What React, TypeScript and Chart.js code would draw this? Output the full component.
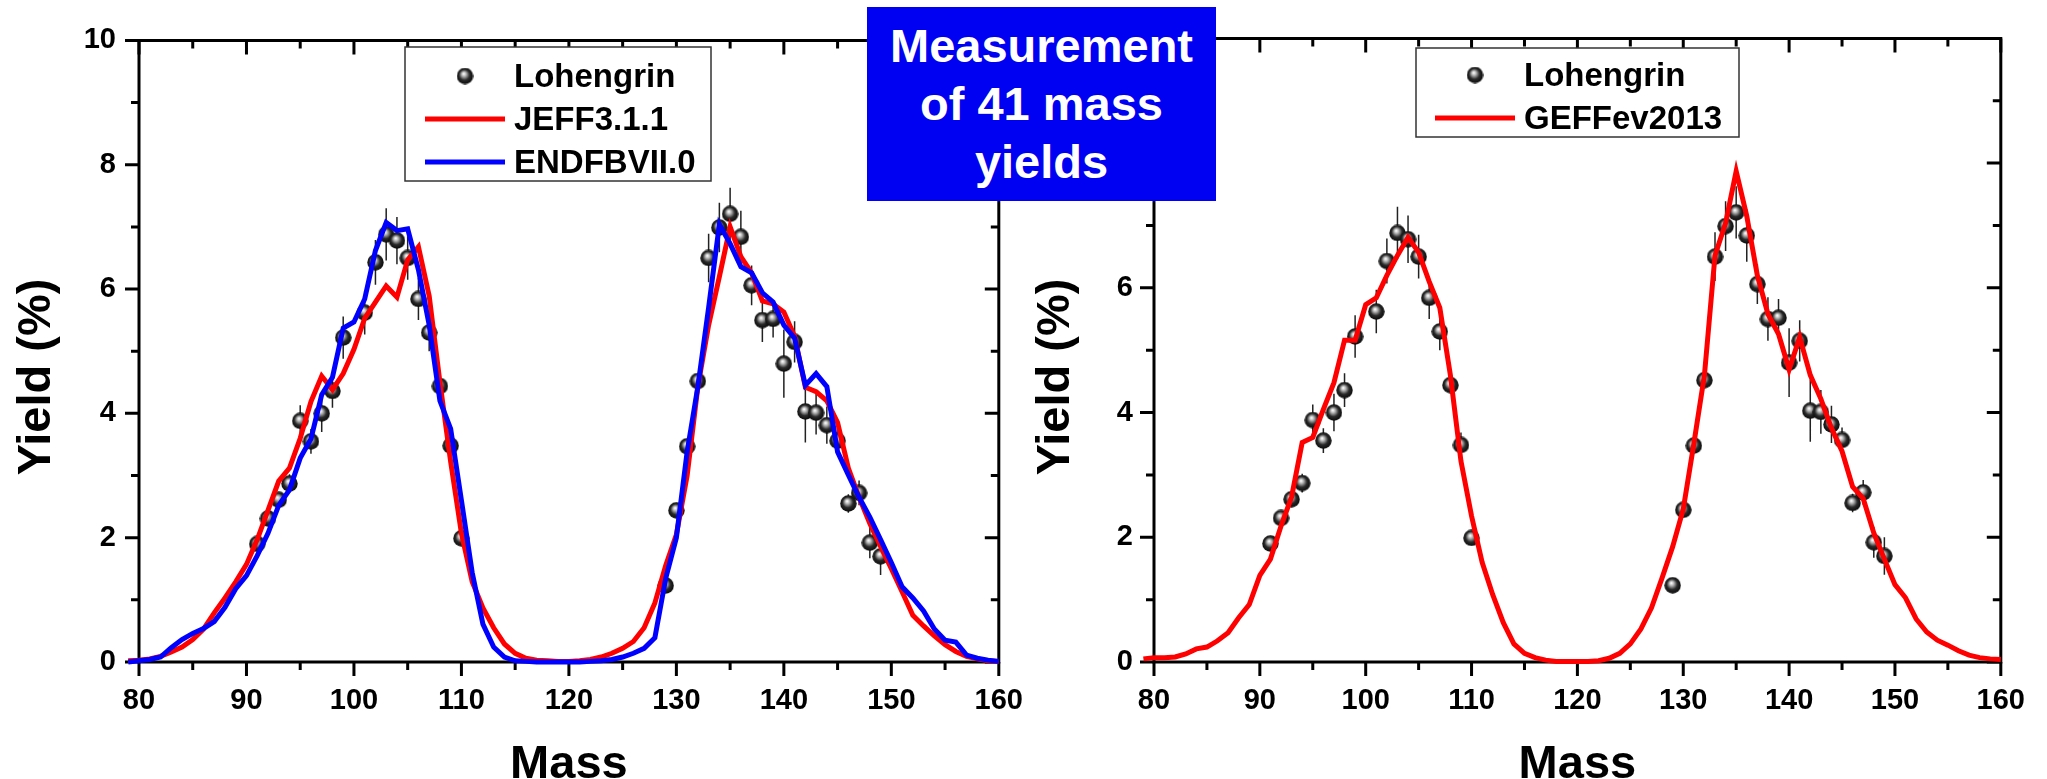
import { useEffect, useRef } from 'react';
import { Chart, registerables } from 'chart.js';

Chart.register(...registerables);

const FONT = '"Liberation Sans", Arial, Helvetica, sans-serif';

// Measured Lohengrin mass yields (%), with their uncertainties
const lohengrinMass = [
  91, 92, 93, 94, 95, 96, 97, 98, 99, 101, 102, 103, 104, 105, 106, 107, 108, 109, 110,
  129, 130, 131, 132, 133, 134, 135, 136, 137, 138, 139, 140, 141, 142, 143, 144, 145, 146, 147, 148, 149,
];
const lohengrinYield = [
  1.9, 2.31, 2.61, 2.87, 3.88, 3.55, 4.0, 4.36, 5.22, 5.62, 6.43, 6.88, 6.78, 6.5, 5.84, 5.3, 4.44, 3.48, 1.99,
  1.23, 2.44, 3.47, 4.52, 6.5, 6.99, 7.21, 6.84, 6.06, 5.5, 5.52, 4.8, 5.15, 4.03, 4.01, 3.81, 3.56, 2.55, 2.72, 1.92, 1.7,
];
const lohengrinError = [
  0.1, 0.1, 0.1, 0.15, 0.25, 0.2, 0.3, 0.27, 0.34, 0.35, 0.36, 0.42, 0.38, 0.35, 0.34, 0.3, 0.12, 0.2, 0.05,
  0.05, 0.08, 0.1, 0.12, 0.39, 0.4, 0.42, 0.42, 0.32, 0.35, 0.3, 0.55, 0.33, 0.5, 0.35, 0.3, 0.2, 0.15, 0.2, 0.25, 0.3,
];

// Evaluated-library masses
const modelMass = [
  79, 80, 81, 82, 83, 84, 85, 86, 87, 88,
  89, 90, 91, 92, 93, 94, 95, 96, 97, 98,
  99, 100, 101, 102, 103, 104, 105, 106, 107, 108,
  109, 110, 111, 112, 113, 114, 115, 116, 117, 118,
  119, 120, 121, 122, 123, 124, 125, 126, 127, 128,
  129, 130, 131, 132, 133, 134, 135, 136, 137, 138,
  139, 140, 141, 142, 143, 144, 145, 146, 147, 148,
  149, 150, 151, 152, 153, 154, 155, 156, 157, 158,
  159, 160, 161,
];
const jeffYield = [
  0.02, 0.03, 0.05, 0.09, 0.16, 0.24, 0.36, 0.53, 0.79, 1.03,
  1.29, 1.57, 1.97, 2.44, 2.91, 3.12, 3.6, 4.19, 4.6, 4.38,
  4.64, 5.03, 5.53, 5.79, 6.05, 5.87, 6.47, 6.68, 5.89, 4.5,
  3.22, 2.07, 1.29, 0.87, 0.55, 0.29, 0.14, 0.06, 0.03, 0.02,
  0.01, 0.01, 0.02, 0.04, 0.08, 0.14, 0.22, 0.33, 0.55, 0.95,
  1.55, 2.05, 3.0, 4.43, 5.42, 6.2, 7.0, 6.52, 6.26, 5.81,
  5.76, 5.63, 5.24, 4.42, 4.35, 4.2, 3.85, 3.12, 2.65, 2.23,
  1.86, 1.5, 1.13, 0.75, 0.58, 0.42, 0.28, 0.17, 0.09, 0.05,
  0.02, 0.01, 0.0,
];
const endfYield = [
  0.0, 0.02, 0.04, 0.08, 0.23, 0.36, 0.46, 0.54, 0.65, 0.88,
  1.18, 1.39, 1.71, 2.07, 2.52, 2.77, 3.28, 3.59, 4.3, 4.58,
  5.37, 5.47, 5.84, 6.62, 7.07, 6.94, 6.97, 6.31, 5.42, 4.2,
  3.75, 2.6, 1.44, 0.61, 0.24, 0.08, 0.02, 0.01, 0.0, 0.0,
  0.0, 0.0, 0.0, 0.01, 0.02, 0.04, 0.08, 0.14, 0.22, 0.39,
  1.34, 2.0, 3.38, 4.43, 5.7, 7.04, 6.73, 6.36, 6.26, 5.94,
  5.79, 5.42, 5.21, 4.45, 4.64, 4.43, 3.38, 3.01, 2.65, 2.33,
  1.97, 1.6, 1.21, 1.03, 0.82, 0.53, 0.35, 0.32, 0.11, 0.06,
  0.03, 0.01, 0.0,
];
const geffYield = [
  0.05, 0.07, 0.07, 0.08, 0.13, 0.21, 0.24, 0.34, 0.47, 0.71,
  0.92, 1.39, 1.65, 2.18, 2.65, 3.52, 3.6, 4.05, 4.48, 5.16,
  5.16, 5.73, 5.84, 6.2, 6.52, 6.81, 6.57, 6.1, 5.68, 4.6,
  3.22, 2.34, 1.6, 1.08, 0.63, 0.29, 0.14, 0.07, 0.03, 0.01,
  0.01, 0.01, 0.01, 0.02, 0.06, 0.14, 0.29, 0.53, 0.87, 1.35,
  1.85, 2.45, 3.5, 4.6, 6.52, 7.04, 7.87, 7.15, 6.2, 5.58,
  5.26, 4.69, 5.21, 4.6, 4.22, 3.75, 3.38, 2.81, 2.62, 2.07,
  1.65, 1.24, 1.03, 0.69, 0.48, 0.35, 0.27, 0.18, 0.11, 0.07,
  0.05, 0.04, 0.04,
];

// Axis ranges and tick spacing
const massRange = [80, 160];
const yieldRange = [0, 10];
const massTickStep = [10, 5]; // major, minor
const yieldTickStep = [2, 1]; // major, minor

const RED = '#ff0000';
const BLUE = '#0000ff';

type Curve = { label: string; color: string; values: number[] };
type LegendItem = { label: string; color?: string; marker?: boolean };

function makeSphere(): HTMLCanvasElement {
  const w = 17;
  const h = 17;
  const c = document.createElement('canvas');
  c.width = w;
  c.height = h;
  const g = c.getContext('2d')!;
  const grad = g.createRadialGradient(w * 0.42, h * 0.36, 0.3, w * 0.5, h * 0.5, w * 0.55);
  grad.addColorStop(0, '#ffffff');
  grad.addColorStop(0.22, '#b5b5b5');
  grad.addColorStop(0.55, '#2a2a2a');
  grad.addColorStop(1, '#000000');
  g.fillStyle = grad;
  g.beginPath();
  g.ellipse(w / 2, h / 2, w / 2 - 0.3, h / 2 - 0.3, 0, 0, Math.PI * 2);
  g.fill();
  return c;
}

// Box frame with outward ticks on bottom/left and inward mirrored ticks on top/right
const framePlugin = {
  id: 'frame',
  beforeDatasetsDraw(chart: any) {
    const { ctx, chartArea, scales } = chart;
    const { left, right, top, bottom } = chartArea;
    const x = scales.x;
    const y = scales.y;
    ctx.save();
    ctx.strokeStyle = '#000';
    ctx.lineWidth = 3;
    ctx.lineCap = 'square';
    ctx.beginPath();
    ctx.rect(left, top, right - left, bottom - top);
    ctx.stroke();
    ctx.lineCap = 'butt';
    ctx.beginPath();
    for (let v = massRange[0]; v <= massRange[1]; v += massTickStep[1]) {
      const px = x.getPixelForValue(v);
      const len = v % massTickStep[0] === 0 ? 14 : 8;
      ctx.moveTo(px, bottom);
      ctx.lineTo(px, bottom + len);
      ctx.moveTo(px, top);
      ctx.lineTo(px, top + len);
    }
    for (let v = yieldRange[0]; v <= yieldRange[1]; v += yieldTickStep[1]) {
      const py = y.getPixelForValue(v);
      const len = v % yieldTickStep[0] === 0 ? 14 : 8;
      ctx.moveTo(left - len, py);
      ctx.lineTo(left, py);
      ctx.moveTo(right - len, py);
      ctx.lineTo(right, py);
    }
    ctx.stroke();
    ctx.restore();
  },
};

// Vertical error bars behind the measured points
const errorBarPlugin = {
  id: 'errorBars',
  beforeDatasetDraw(chart: any, args: any, opts: any) {
    if (args.index !== opts.datasetIndex) return;
    const { ctx, scales } = chart;
    const ds = chart.data.datasets[args.index];
    ctx.save();
    ctx.strokeStyle = '#222';
    ctx.lineWidth = 1.5;
    ctx.beginPath();
    ds.data.forEach((p: any, i: number) => {
      const px = scales.x.getPixelForValue(p.x);
      const e = opts.errors[i];
      ctx.moveTo(px, scales.y.getPixelForValue(p.y - e));
      ctx.lineTo(px, scales.y.getPixelForValue(p.y + e));
    });
    ctx.stroke();
    ctx.restore();
  },
};

// Axis titles and the boxed legend
const decorPlugin = {
  id: 'decor',
  afterDraw(chart: any, _args: any, opts: any) {
    const { ctx, chartArea } = chart;
    ctx.save();
    ctx.fillStyle = '#000';
    ctx.font = `bold 47px ${FONT}`;
    ctx.textAlign = 'center';
    ctx.textBaseline = 'alphabetic';
    ctx.fillText('Mass', (chartArea.left + chartArea.right) / 2, opts.xTitleBaseline);
    ctx.save();
    ctx.translate(opts.yTitleX, opts.yTitleCenter);
    ctx.rotate(-Math.PI / 2);
    ctx.fillText('Yield (%)', 0, 0);
    ctx.restore();

    const b = opts.box;
    ctx.fillStyle = '#fff';
    ctx.fillRect(b.x, b.y, b.w, b.h);
    ctx.strokeStyle = '#333';
    ctx.lineWidth = 1.5;
    ctx.strokeRect(b.x, b.y, b.w, b.h);
    ctx.font = `bold 33px ${FONT}`;
    ctx.textAlign = 'left';
    ctx.fillStyle = '#000';
    const sphere = opts.sphere as HTMLCanvasElement;
    opts.items.forEach((it: LegendItem, i: number) => {
      const cy = b.y + opts.firstRow + i * opts.rowGap;
      if (it.marker) {
        ctx.drawImage(sphere, opts.symbolX + opts.symbolW / 2 - sphere.width / 2, cy - sphere.height / 2);
      } else {
        ctx.strokeStyle = it.color;
        ctx.lineWidth = 5;
        ctx.beginPath();
        ctx.moveTo(opts.symbolX, cy);
        ctx.lineTo(opts.symbolX + opts.symbolW, cy);
        ctx.stroke();
      }
      ctx.fillText(it.label, opts.textX, cy + 11);
    });
    ctx.restore();
  },
};

function buildChart(canvas: HTMLCanvasElement, curves: Curve[], legendItems: LegendItem[], layout: any, sphere: HTMLCanvasElement) {
  const points = lohengrinMass.map((m, i) => ({ x: m, y: lohengrinYield[i] }));
  // earlier datasets are painted on top
  const datasets: any[] = curves.map((c, k) => ({
    label: c.label,
    data: modelMass.map((m, i) => ({ x: m, y: c.values[i] })),
    showLine: true,
    borderColor: c.color,
    backgroundColor: c.color,
    borderWidth: 5,
    pointRadius: 0,
    tension: 0,
    clip: false,
    order: k,
  }));
  datasets.push({
    label: 'Lohengrin',
    data: points,
    showLine: false,
    pointStyle: sphere,
    pointRadius: 8,
    clip: false,
    order: 10,
  });
  const tickFont = { family: FONT, size: 29, weight: 'bold' as const };
  return new Chart(canvas, {
    type: 'scatter',
    data: { datasets },
    options: {
      animation: false,
      responsive: false,
      devicePixelRatio: 1,
      layout: { padding: { top: 25, right: layout.padRight, bottom: 0, left: 0 } },
      scales: {
        x: {
          type: 'linear',
          min: massRange[0],
          max: massRange[1],
          grid: { display: false, drawTicks: false },
          border: { display: false },
          ticks: { stepSize: massTickStep[0], color: '#000', font: tickFont, padding: 22, maxRotation: 0 },
          afterFit: (s: any) => {
            s.height = 117;
          },
        },
        y: {
          type: 'linear',
          min: yieldRange[0],
          max: yieldRange[1],
          grid: { display: false, drawTicks: false },
          border: { display: false },
          ticks: {
            stepSize: yieldTickStep[0],
            color: '#000',
            font: tickFont,
            padding: layout.yLabelPad,
          },
          afterFit: (s: any) => {
            s.width = layout.yWidth;
          },
        },
      },
      plugins: {
        legend: { display: false },
        tooltip: { enabled: false },
        errorBars: { datasetIndex: datasets.length - 1, errors: lohengrinError },
        decor: {
          xTitleBaseline: 778,
          yTitleX: layout.yTitleX,
          yTitleCenter: 377,
          box: layout.box,
          items: legendItems,
          firstRow: layout.firstRow,
          rowGap: 43,
          symbolX: layout.symbolX,
          symbolW: 80,
          textX: layout.textX,
          sphere,
        },
      } as any,
    },
    plugins: [framePlugin, errorBarPlugin, decorPlugin],
  });
}

const RIGHT_LEFT = 1010;

export default function App() {
  const leftRef = useRef<HTMLCanvasElement>(null);
  const rightRef = useRef<HTMLCanvasElement>(null);

  useEffect(() => {
    const sphere = makeSphere();
    const left = buildChart(
      leftRef.current!,
      [
        { label: 'ENDFBVII.0', color: BLUE, values: endfYield },
        { label: 'JEFF3.1.1', color: RED, values: jeffYield },
      ],
      [
        { marker: true, label: 'Lohengrin' },
        { label: 'JEFF3.1.1', color: RED },
        { label: 'ENDFBVII.0', color: BLUE },
      ],
      {
        padRight: 42,
        yWidth: 139,
        yLabelPad: 23,
        yTitleX: 50,
        box: { x: 405, y: 47, w: 306, h: 134 },
        firstRow: 29,
        symbolX: 425,
        textX: 514,
      },
      sphere
    );

    const right = buildChart(
      rightRef.current!,
      [{ label: 'GEFFev2013', color: RED, values: geffYield }],
      [
        { marker: true, label: 'Lohengrin' },
        { label: 'GEFFev2013', color: RED },
      ],
      {
        padRight: 30,
        yWidth: 1154 - RIGHT_LEFT,
        yLabelPad: 21,
        yTitleX: 1069 - RIGHT_LEFT,
        box: { x: 1416 - RIGHT_LEFT, y: 48, w: 323, h: 89 },
        firstRow: 27,
        symbolX: 1435 - RIGHT_LEFT,
        textX: 1524 - RIGHT_LEFT,
      },
      sphere
    );
    return () => {
      left.destroy();
      right.destroy();
    };
  }, []);

  return (
    <div style={{ position: 'absolute', left: 0, top: 0, width: 2047, height: 779, background: '#fff', overflow: 'hidden' }}>
      <canvas ref={leftRef} width={1045} height={779} style={{ position: 'absolute', left: 0, top: 0, width: 1045, height: 779 }} />
      <canvas
        ref={rightRef}
        width={2047 - RIGHT_LEFT}
        height={779}
        style={{ position: 'absolute', left: RIGHT_LEFT, top: 0, width: 2047 - RIGHT_LEFT, height: 779 }}
      />
      <div
        style={{
          position: 'absolute',
          left: 867,
          top: 7,
          width: 349,
          height: 194,
          boxSizing: 'border-box',
          paddingTop: 10,
          background: '#0000f2',
          color: '#fff',
          fontFamily: FONT,
          fontWeight: 'bold',
          fontSize: 47,
          lineHeight: '58px',
          textAlign: 'center',
        }}
      >
        Measurement
        <br />
        of 41 mass
        <br />
        yields
      </div>
    </div>
  );
}
